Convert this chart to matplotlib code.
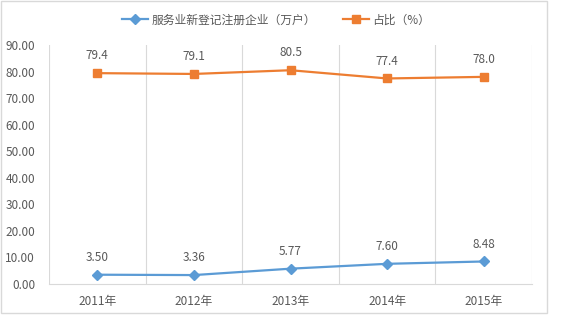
import matplotlib
matplotlib.use("Agg")
import matplotlib.pyplot as plt
from matplotlib.patches import Rectangle

plt.rcParams['font.family'] = ['Noto Sans CJK SC', 'DejaVu Sans']

# data
years = ["2011年", "2012年", "2013年", "2014年", "2015年"]
firms = [3.50, 3.36, 5.77, 7.60, 8.48]
share = [79.4, 79.1, 80.5, 77.4, 78.0]
firms_name = "服务业新登记注册企业（万户）"
share_name = "占比（%）"
yticks = [0, 10, 20, 30, 40, 50, 60, 70, 80, 90]

blue = "#5B9BD5"
orange = "#ED7D31"
grid = "#D9D9D9"
txt = "#595959"

fig = plt.figure(figsize=(5.66, 3.24), dpi=100)
ax = fig.add_axes([49/566, 1-284/324, (532-49)/566, (284-45)/324])

x = list(range(len(years)))
ax.plot(x, firms, color=blue, lw=1.6, marker="D", ms=5, label=firms_name)
ax.plot(x, share, color=orange, lw=1.6, marker="s", ms=5.5, label=share_name)

for xi, v in zip(x, firms):
    ax.annotate(f"{v:.2f}", (xi, v), xytext=(0, 12.5), textcoords="offset points",
                ha="center", va="center", fontsize=8.5, color=txt)
for xi, v in zip(x, share):
    ax.annotate(f"{v:.1f}", (xi, v), xytext=(0, 12.5), textcoords="offset points",
                ha="center", va="center", fontsize=8.5, color=txt)

ax.set_xlim(-0.5, len(years) - 0.5)
ax.set_ylim(0, 90)
ax.set_yticks(yticks)
ax.set_yticklabels([f"{t:.2f}" for t in yticks], fontsize=8.5, color=txt)
ax.set_xticks(x)
ax.set_xticklabels(years, fontsize=8.5, color=txt)
ax.set_xticks([i - 0.5 for i in range(len(years) + 1)], minor=True)
ax.grid(axis="x", which="minor", color=grid, lw=0.8)
ax.tick_params(axis="both", which="both", length=0)
ax.tick_params(axis="y", pad=10)
ax.tick_params(axis="x", pad=8)
for s in ["top", "right", "left"]:
    ax.spines[s].set_visible(False)
ax.spines["bottom"].set_color(grid)

fig.legend(loc="center", bbox_to_anchor=(276/566, 1-20/324), ncol=2, frameon=False,
           fontsize=8.5, handlelength=2.2, handletextpad=0.25, columnspacing=2.3,
           labelcolor=txt)

fig.patches.append(Rectangle((0.5/566, 1-313/324), 546/566, 312.5/324,
                             transform=fig.transFigure, fill=False, ec=grid, lw=1))

fig.savefig("out.png", dpi=100, facecolor="white")
